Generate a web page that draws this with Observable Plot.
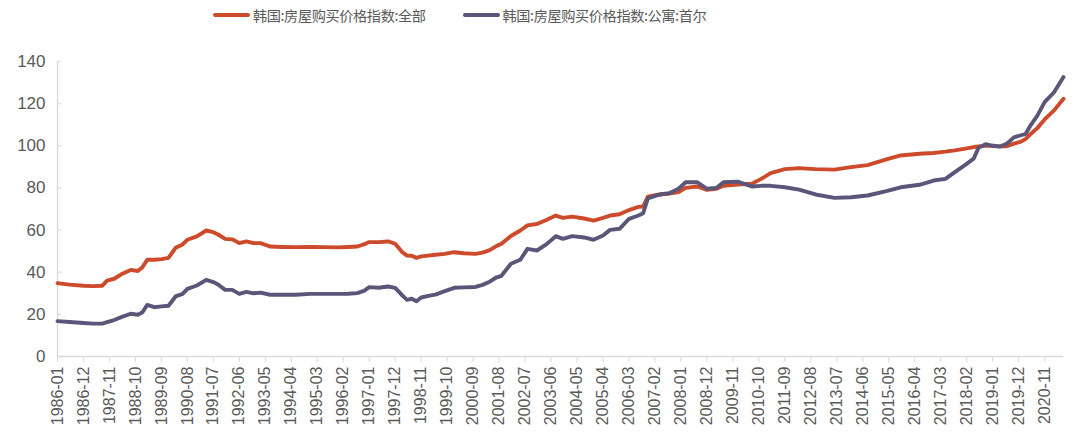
<!DOCTYPE html>
<html><head><meta charset="utf-8">
<script src="https://cdn.jsdelivr.net/npm/d3@7"></script>
<script src="https://cdn.jsdelivr.net/npm/@observablehq/plot@0.6"></script>
<style>
body{margin:0;background:#fff;width:1080px;height:445px;overflow:hidden;font-family:"Liberation Sans",Arial,sans-serif;}
#legend{height:30px;display:flex;align-items:center;padding-left:213px;font-family:"Noto Sans CJK SC";font-size:14.2px;letter-spacing:-0.4px;color:#595959;}
.item{display:flex;align-items:center;margin-right:37px;}
.sw{width:37px;height:4px;margin-right:3px;border-radius:2px;}
</style></head><body>
<div id="legend"></div><div id="chart"></div>
<script>
const seriesNames = ["韩国:房屋购买价格指数:全部", "韩国:房屋购买价格指数:公寓:首尔"];
const seriesColors = ["#CD4A2B", "#5B5679"];
const months = ["1986-01","1986-06","1986-12","1987-04","1987-08","1987-10","1988-01","1988-04","1988-08","1988-11",
"1989-01","1989-03","1989-06","1989-09","1989-12","1990-03","1990-06","1990-08","1990-12","1991-04",
"1991-07","1991-09","1991-12","1992-03","1992-06","1992-09","1992-12","1993-03","1993-07","1993-12",
"1994-06","1994-12","1995-06","1995-12","1996-04","1996-08","1996-11","1997-01","1997-05","1997-09",
"1997-12","1998-03","1998-05","1998-07","1998-09","1998-11","1999-02","1999-05","1999-09","2000-01",
"2000-05","2000-10","2001-01","2001-04","2001-07","2001-09","2002-01","2002-05","2002-08","2002-12",
"2003-04","2003-08","2003-11","2004-03","2004-08","2004-12","2005-04","2005-07","2005-11","2006-03",
"2006-07","2006-09","2006-11","2007-04","2007-08","2007-12","2008-03","2008-08","2008-12","2009-04",
"2009-07","2010-01","2010-07","2010-11","2011-03","2011-09","2012-03","2012-10","2013-06","2014-01",
"2014-08","2015-04","2015-10","2016-06","2016-12","2017-05","2017-09","2018-02","2018-05","2018-07",
"2018-10","2019-01","2019-04","2019-07","2019-10","2020-01","2020-03","2020-05","2020-08","2020-11",
"2021-03","2021-07"];
const allIndex = [34.8,34.1,33.6,33.4,33.6,36.0,36.9,39.0,41.1,40.6,
42.4,45.9,45.9,46.2,46.8,51.6,53.2,55.4,57.0,59.8,
59.0,57.9,55.8,55.6,53.8,54.6,53.8,53.8,52.2,52.0,
51.9,52.0,51.9,51.8,52.0,52.2,53.3,54.3,54.3,54.6,
53.5,49.5,47.9,47.8,46.8,47.5,47.9,48.3,48.7,49.5,
49.0,48.7,49.3,50.5,52.5,53.5,57.2,59.8,62.2,62.9,
64.8,66.9,65.8,66.4,65.5,64.5,65.8,66.9,67.5,69.5,
71.0,71.2,75.9,76.9,77.3,78.0,80.0,80.7,79.1,79.6,
81.0,81.6,82.0,84.3,87.0,88.9,89.4,88.9,88.7,89.9,
90.8,93.5,95.4,96.2,96.6,97.2,97.8,98.8,99.4,99.7,
100.0,100.0,99.7,99.8,101.0,102.0,103.3,105.5,108.5,112.5,
116.8,122.3];
const seoulApt = [16.8,16.4,15.9,15.6,15.6,16.3,17.3,18.7,20.3,19.8,
21.0,24.5,23.4,23.8,24.1,28.5,29.7,32.1,33.7,36.4,
35.3,34.2,31.6,31.6,29.7,30.7,30.0,30.3,29.3,29.3,
29.3,29.7,29.7,29.7,29.8,30.1,31.3,32.9,32.6,33.2,
32.6,29.0,26.9,27.4,26.2,28.0,28.8,29.4,31.0,32.6,
32.8,33.0,34.0,35.5,37.6,38.3,44.0,45.9,51.1,50.3,
53.2,57.1,55.8,57.1,56.5,55.4,57.4,60.1,60.6,65.3,
66.9,68.0,75.0,76.9,77.5,79.6,82.7,82.7,79.6,80.0,
82.7,83.0,80.7,81.0,81.0,80.3,79.2,76.9,75.3,75.6,
76.4,78.5,80.3,81.5,83.5,84.3,87.5,91.4,94.0,99.0,
100.8,100.0,99.6,101.0,104.0,105.0,105.7,109.6,114.4,120.7,
125.4,132.6];
const tickLabels = ["1986-01","1986-12","1987-11","1988-10","1989-09","1990-08","1991-07","1992-06","1993-05","1994-04",
"1995-03","1996-02","1997-01","1997-12","1998-11","1999-10","2000-09","2001-08","2002-07","2003-06",
"2004-05","2005-04","2006-03","2007-02","2008-01","2008-12","2009-11","2010-10","2011-09","2012-08",
"2013-07","2014-06","2015-05","2016-04","2017-03","2018-02","2019-01","2019-12","2020-11"];
const yTicks = [0,20,40,60,80,100,120,140];
const firstMonth = "1986-01", lastMonth = "2021-07";

const idx = s => { const [y,m] = s.split("-").map(Number); return (y-1986)*12 + (m-1); };
const rowsA = months.map((m,i)=>({x:idx(m), y:allIndex[i]}));
const rowsB = months.map((m,i)=>({x:idx(m), y:seoulApt[i]}));
const tickIdx = tickLabels.map(idx);
const labelOf = new Map(tickIdx.map((t,i)=>[t, tickLabels[i]]));

const legend = document.getElementById("legend");
seriesNames.forEach((n,i)=>{
  const it = document.createElement("div"); it.className="item";
  const sw = document.createElement("div"); sw.className="sw"; sw.style.background=seriesColors[i];
  const tx = document.createElement("span"); tx.textContent = n;
  it.append(sw, tx); legend.append(it);
});

const chart = Plot.plot({
  width:1080, height:415,
  marginTop:31, marginBottom:89, marginLeft:57, marginRight:17,
  x:{type:"linear", domain:[idx(firstMonth), idx(lastMonth)]},
  y:{domain:[0,140]},
  style:{fontFamily:"Liberation Sans, Arial, sans-serif", fontSize:"16px", color:"#595959", background:"#fff"},
  marks:[
    Plot.ruleY([0], {stroke:"#d9d9d9", strokeWidth:1.3}),
    Plot.ruleX([idx(firstMonth)], {stroke:"#d9d9d9", strokeWidth:1.3}),
    Plot.ruleY(yTicks, {x1:idx(firstMonth), x2:1.7, stroke:"#d9d9d9", strokeWidth:1.3}),
    Plot.axisY({ticks:yTicks, tickSize:0, tickPadding:12, fontSize:17, fill:"#595959", label:null}),
    Plot.axisX({ticks:tickIdx, tickFormat:d=>labelOf.get(d), tickRotate:-90, tickSize:6, tickPadding:4,
      stroke:"#d9d9d9", fill:"#595959", fontSize:16, label:null}),
    Plot.line(rowsA, {x:"x", y:"y", stroke:seriesColors[0], strokeWidth:3.9, strokeLinejoin:"round", strokeLinecap:"round"}),
    Plot.line(rowsB, {x:"x", y:"y", stroke:seriesColors[1], strokeWidth:3.9, strokeLinejoin:"round", strokeLinecap:"round"})
  ]
});
document.getElementById("chart").append(chart);
</script>
</body></html>
